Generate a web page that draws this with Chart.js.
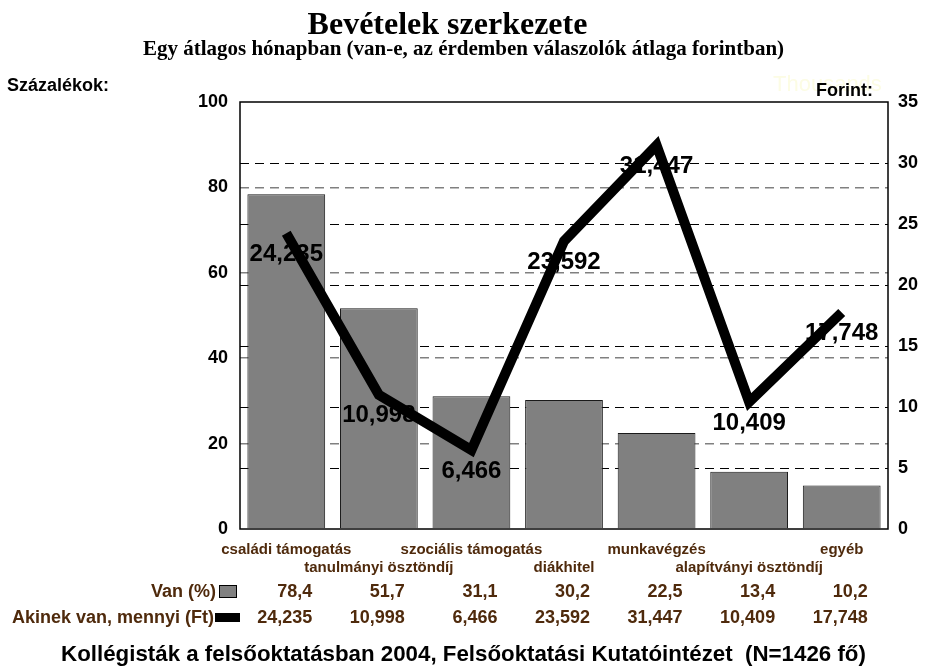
<!DOCTYPE html>
<html>
<head>
<meta charset="utf-8">
<script src="https://cdn.jsdelivr.net/npm/chart.js@4.4.0/dist/chart.umd.min.js"></script>
<style>
body { margin: 0; background: #fff; }
#wrap { position: relative; width: 927px; height: 667px; overflow: hidden; }
#chart { position: absolute; left: 0; top: 0; }
.txt { position: absolute; white-space: nowrap; font-weight: bold; line-height: 1; }
#title { left: 0; width: 895px; text-align: center; top: 5px; font: bold 32px "Liberation Serif", "Times New Roman", serif; }
#subtitle { left: 0; width: 927px; text-align: center; top: 36px; font: bold 21px "Liberation Serif", "Times New Roman", serif; }
#leftTitle { left: 7px; top: 75px; font: bold 18px "Liberation Sans", Arial, sans-serif; }
#thousands { left: 773px; top: 71px; font: 22px "Liberation Sans", Arial, sans-serif; color: #fcfce4; }
#rightTitle { right: 54px; top: 80px; font: bold 18px "Liberation Sans", Arial, sans-serif; }
#footer { left: 0; width: 927px; text-align: center; top: 641px; font: bold 22.3px "Liberation Sans", Arial, sans-serif; }
</style>
</head>
<body>
<div id="wrap">
    <canvas id="chart" width="927" height="667"></canvas>
    <div class="txt" id="title">Bevételek szerkezete</div>
    <div class="txt" id="subtitle">Egy átlagos hónapban (van-e, az érdemben válaszolók átlaga forintban)</div>
    <div class="txt" id="leftTitle">Százalékok:</div>
    <div class="txt" id="thousands">Thousands</div>
    <div class="txt" id="rightTitle">Forint:</div>
    <div class="txt" id="footer">Kollégisták a felsőoktatásban 2004, Felsőoktatási Kutatóintézet&nbsp; (N=1426 fő)</div>
</div>
<script>
const categories = ['családi támogatás', 'tanulmányi ösztöndíj', 'szociális támogatás', 'diákhitel', 'munkavégzés', 'alapítványi ösztöndíj', 'egyéb'];
const vanPercent = [78.4, 51.7, 31.1, 30.2, 22.5, 13.4, 10.2];
const amountFt = [24235, 10998, 6466, 23592, 31447, 10409, 17748];
const seriesNames = ['Van (%)', 'Akinek van, mennyi (Ft)'];
const leftTicks = [0, 20, 40, 60, 80, 100];
const rightTicks = [0, 5, 10, 15, 20, 25, 30, 35];

const brown = '#4f2a0c';
const sans = '"Liberation Sans", Arial, sans-serif';

const fmtPercent = (v) => v.toFixed(1).replace('.', ',');
const fmtFt = (v) => v.toLocaleString('en-US');

// labels on the line points, drawn before the line so the line sits on top
const pointLabels = {
    id: 'pointLabels',
    beforeDatasetDraw(chart, args) {
        if (args.index !== 1) return;
        const ctx = chart.ctx;
        const meta = chart.getDatasetMeta(1);
        ctx.save();
        ctx.font = 'bold 24px ' + sans;
        ctx.fillStyle = '#000';
        ctx.textAlign = 'center';
        ctx.textBaseline = 'middle';
        meta.data.forEach((pt, i) => {
            ctx.fillText(fmtFt(amountFt[i]), pt.x, pt.y + 21);
        });
        ctx.restore();
    }
};

// frame around plot and the data table under the axis
const frameAndTable = {
    id: 'frameAndTable',
    afterDraw(chart) {
        const ctx = chart.ctx;
        const a = chart.chartArea;
        const x = chart.scales.x;
        ctx.save();
        ctx.strokeStyle = '#000';
        ctx.lineWidth = 1.5;
        ctx.strokeRect(a.left, a.top, a.right - a.left, a.bottom - a.top);

        ctx.font = 'bold 18px ' + sans;
        ctx.fillStyle = brown;
        ctx.textBaseline = 'middle';
        ctx.textAlign = 'right';
        ctx.fillText(seriesNames[0], 216, 592);
        ctx.fillText(seriesNames[1], 214, 618);

        ctx.fillStyle = '#808080';
        ctx.fillRect(219, 585, 17, 12);
        ctx.strokeStyle = '#000';
        ctx.lineWidth = 1;
        ctx.strokeRect(219.5, 585.5, 17, 12);
        ctx.fillStyle = '#000';
        ctx.fillRect(215, 613, 25, 9);

        ctx.fillStyle = brown;
        categories.forEach((c, i) => {
            const cx = x.getPixelForValue(i) + 26;
            ctx.fillText(fmtPercent(vanPercent[i]), cx, 592);
            ctx.fillText(fmtFt(amountFt[i]), cx, 618);
        });
        ctx.restore();
    }
};

new Chart(document.getElementById('chart'), {
    data: {
        labels: categories,
        datasets: [{
            type: 'bar',
            label: seriesNames[0],
            data: vanPercent,
            yAxisID: 'y',
            backgroundColor: '#808080',
            borderColor: '#1a1a1a',
            borderWidth: 1,
            categoryPercentage: 1,
            barPercentage: 0.84,
            order: 2
        }, {
            type: 'line',
            label: seriesNames[1],
            data: amountFt.map(v => v / 1000),
            yAxisID: 'y1',
            borderColor: '#000',
            borderWidth: 10,
            borderJoinStyle: 'miter',
            borderCapStyle: 'butt',
            pointRadius: 0,
            tension: 0,
            fill: false,
            order: 1
        }]
    },
    options: {
        responsive: false,
        animation: false,
        layout: { padding: { top: 102, left: 0, right: 0, bottom: 0 } },
        plugins: {
            legend: { display: false },
            title: { display: false },
            tooltip: { enabled: false }
        },
        scales: {
            x: {
                grid: { display: false },
                border: { display: false },
                ticks: {
                    autoSkip: false,
                    maxRotation: 0,
                    minRotation: 0,
                    padding: 4,
                    color: brown,
                    font: { family: sans, size: 15, weight: 'bold' },
                    callback: (v, i) => i % 2 === 0 ? [categories[i], ''] : ['', categories[i]]
                },
                afterFit: (s) => { s.height = 138; }
            },
            y: {
                position: 'left',
                min: leftTicks[0],
                max: leftTicks[leftTicks.length - 1],
                afterBuildTicks: (s) => { s.ticks = leftTicks.map(v => ({ value: v })); },
                grid: {
                    drawTicks: false,
                    color: (c) => (c.tick && c.tick.value > 0 && c.tick.value < 100) ? '#808080' : 'transparent',
                    lineWidth: 1.5
                },
                border: { display: false, dash: [9, 6] },
                ticks: {
                    padding: 12,
                    color: '#000',
                    font: { family: sans, size: 18, weight: 'bold' }
                },
                afterFit: (s) => { s.width = 240; }
            },
            y1: {
                position: 'right',
                min: rightTicks[0],
                max: rightTicks[rightTicks.length - 1],
                afterBuildTicks: (s) => { s.ticks = rightTicks.map(v => ({ value: v })); },
                grid: {
                    drawTicks: false,
                    color: (c) => (c.tick && c.tick.value > 0 && c.tick.value < 35) ? '#000' : 'transparent',
                    lineWidth: 1
                },
                border: { display: false, dash: [9, 6] },
                ticks: {
                    padding: 10,
                    color: '#000',
                    font: { family: sans, size: 18, weight: 'bold' }
                },
                afterFit: (s) => { s.width = 39; }
            }
        }
    },
    plugins: [pointLabels, frameAndTable]
});
</script>
</body>
</html>
